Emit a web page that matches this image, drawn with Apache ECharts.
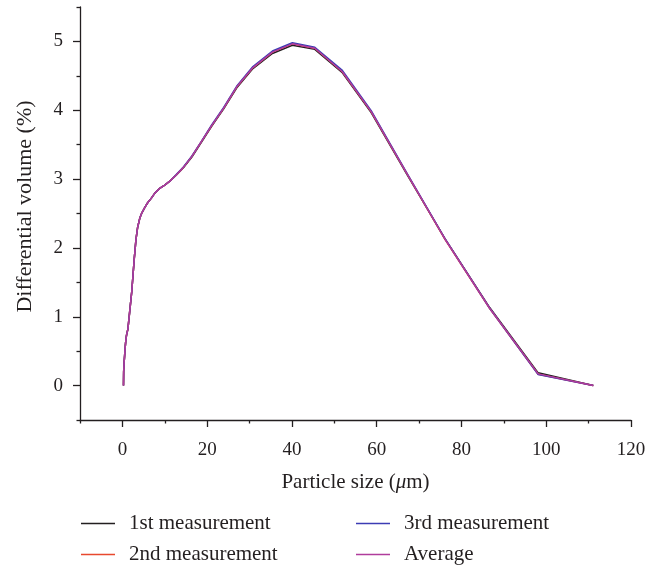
<!DOCTYPE html>
<html><head><meta charset="utf-8">
<script src="https://cdn.jsdelivr.net/npm/echarts@6/dist/echarts.min.js"></script>
<style>html,body{margin:0;padding:0;background:#fff}#c{width:659px;height:566px}</style>
</head><body><div id="c"></div>
<script>
const sizes = [0.26,0.3,0.4,0.5,0.6,0.7,0.8,0.9,1.0,1.15,1.3,1.5,1.7,1.9,2.2,2.5,2.8,3.2,3.6,4.1,4.6,5.3,6.0,6.8,7.7,8.7,9.9,11.2,12.7,14.4,16.4,18.6,21.1,23.9,27.1,30.8,35.4,40.1,45.4,51.9,58.7,67.3,76.1,86.7,98.1,111.1];
const lowPart = [0,0.2,0.33,0.41,0.5,0.58,0.65,0.7,0.74,0.78,0.82,0.94,1.06,1.18,1.36,1.6,1.84,2.12,2.3,2.43,2.51,2.59,2.66,2.72,2.8,2.86,2.91,2.97];
const m1High = [3.055,3.165,3.32,3.53,3.77,4.02,4.335,4.605,4.825,4.945,4.885,4.545,3.965,3.05,2.135,1.13,0.185,0];
const m2High = [3.06,3.17,3.33,3.54,3.78,4.03,4.35,4.62,4.845,4.965,4.90,4.56,3.98,3.06,2.125,1.115,0.165,0];
const m3High = [3.065,3.175,3.335,3.545,3.79,4.04,4.36,4.635,4.86,4.98,4.915,4.58,3.995,3.07,2.135,1.12,0.16,0];
const avgHigh = [3.06,3.17,3.33,3.54,3.78,4.03,4.35,4.62,4.845,4.965,4.90,4.56,3.98,3.06,2.13,1.12,0.17,0];
const measurement1 = lowPart.concat(m1High);
const measurement2 = lowPart.concat(m2High);
const measurement3 = lowPart.concat(m3High);
const average = lowPart.concat(avgHigh);
const seriesNames = ['1st measurement','2nd measurement','3rd measurement','Average'];
const seriesColors = ['#231f20','#e8492e','#3c3cb4','#b03c9c'];
const xMajorTicks = [0,20,40,60,80,100,120];
const xMinorTicks = [-10,10,30,50,70,90,110];
const yMajorTicks = [0,1,2,3,4,5];
const yMinorTicks = [-0.5,0.5,1.5,2.5,3.5,4.5,5.5];

const FONT = '"Liberation Serif", "DejaVu Serif", serif';
const INK = '#231f20';
const allData = [measurement1, measurement2, measurement3, average];

const chart = echarts.init(document.getElementById('c'), null, {renderer:'canvas'});
const baseAxisX = {type:'value', min:-10, max:120, position:'bottom'};
const baseAxisY = {type:'value', min:-0.5, max:5.5, position:'left'};
const legendCommon = {orient:'vertical', top:513, padding:0, icon:'rect',
  itemWidth:34, itemHeight:1.5, itemGap:10,
  textStyle:{fontFamily:FONT, fontSize:21, lineHeight:21, color:INK, padding:[0,0,0,9]}};
chart.setOption({
  animation:false,
  backgroundColor:'#fff',
  grid:{left:80, right:28, top:7, bottom:146},
  xAxis:[
    Object.assign({}, baseAxisX, {
      name:'Particle size ({i|μ}m)', nameLocation:'middle', nameGap:52,
      nameTextStyle:{fontFamily:FONT, fontSize:21, color:INK, rich:{i:{fontFamily:FONT, fontSize:21, fontStyle:'italic', color:INK}}},
      axisLine:{show:true, onZero:false, lineStyle:{color:INK, width:1.3}},
      axisTick:{show:true, inside:false, length:7, customValues:xMajorTicks, lineStyle:{color:INK, width:1.3}},
      axisLabel:{show:true, customValues:xMajorTicks, margin:21, fontFamily:FONT, fontSize:19, color:INK},
      splitLine:{show:false}
    }),
    Object.assign({}, baseAxisX, {
      axisLine:{show:false, onZero:false},
      axisTick:{show:true, inside:false, length:3.5, customValues:xMinorTicks, lineStyle:{color:INK, width:1.3}},
      axisLabel:{show:false},
      splitLine:{show:false}
    })
  ],
  yAxis:[
    Object.assign({}, baseAxisY, {
      name:'Differential volume (%)', nameLocation:'middle', nameGap:44, nameRotate:90,
      nameTextStyle:{fontFamily:FONT, fontSize:22, color:INK, padding:[0,0,0,14]},
      axisLine:{show:true, onZero:false, lineStyle:{color:INK, width:1.3}},
      axisTick:{show:true, inside:false, length:7, customValues:yMajorTicks, lineStyle:{color:INK, width:1.3}},
      axisLabel:{show:true, customValues:yMajorTicks, margin:17, fontFamily:FONT, fontSize:19, color:INK},
      splitLine:{show:false}
    }),
    Object.assign({}, baseAxisY, {
      axisLine:{show:false, onZero:false},
      axisTick:{show:true, inside:false, length:3.5, customValues:yMinorTicks, lineStyle:{color:INK, width:1.3}},
      axisLabel:{show:false},
      splitLine:{show:false}
    })
  ],
  legend:[
    Object.assign({id:'legA', left:81, data:[seriesNames[0], seriesNames[1]]}, legendCommon),
    Object.assign({id:'legB', left:356, data:[seriesNames[2], seriesNames[3]]}, legendCommon)
  ],
  series: allData.map((arr, k) => ({
    name: seriesNames[k], type:'line', xAxisIndex:0, yAxisIndex:0,
    data: sizes.map((s, i) => [s, arr[i]]),
    showSymbol:false, symbol:'none', smooth:false,
    lineStyle:{color:seriesColors[k], width:1.5},
    itemStyle:{color:seriesColors[k]}
  }))
});
</script></body></html>
